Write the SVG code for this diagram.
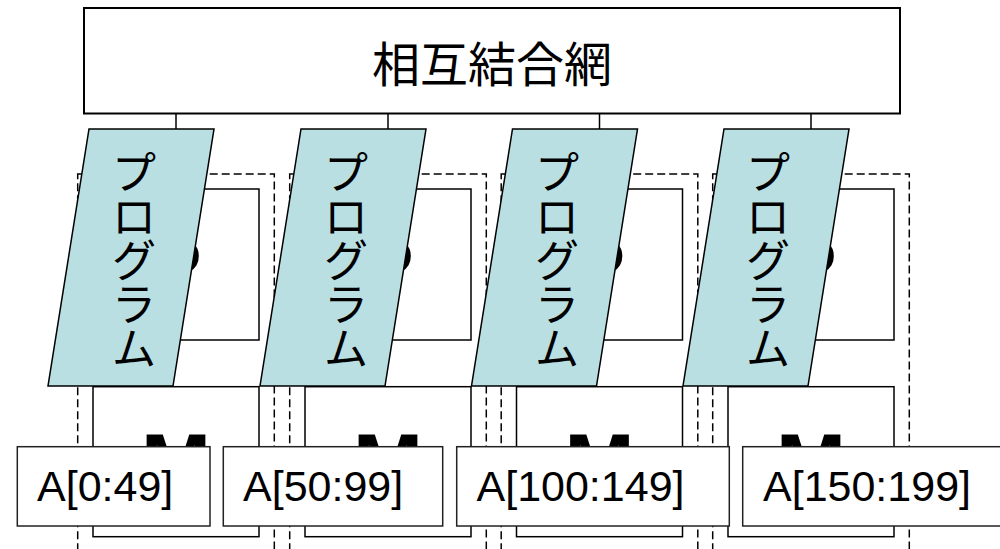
<svg xmlns="http://www.w3.org/2000/svg" width="1000" height="549" viewBox="0 0 1000 549">
<style>
.net{fill:#fff;stroke:#000;stroke-width:2}
.box{fill:#fff;stroke:#000;stroke-width:1.5}
.pe{fill:none;stroke:#000;stroke-width:1.5;stroke-dasharray:8 4}
.prog{fill:#BADFE2;stroke:#000;stroke-width:1.5}
.lbl{fill:#fff;stroke:#222;stroke-width:1.5}
.big{font-family:"Liberation Sans",Arial,sans-serif;font-weight:bold;font-size:84px;text-anchor:middle;fill:#000}
.bigp{font-family:"Liberation Sans",Arial,sans-serif;font-weight:bold;font-size:76px;text-anchor:middle;fill:#000}
.jp{font-family:"Noto Sans CJK JP",sans-serif;text-anchor:middle;dominant-baseline:central;fill:#000}
.lt{font-family:"Liberation Sans",Arial,sans-serif;font-size:43px;fill:#000}
.conn{stroke:#000;stroke-width:1.5;fill:none}
</style>

<g id="network">
<rect class="net" x="84" y="8" width="816" height="105.5"/>
<text class="jp" x="492" y="61" font-size="48">相互結合網</text>
</g>

<g id="connectors">
<line class="conn" x1="176" y1="113.5" x2="176" y2="129"/>
<line class="conn" x1="388" y1="113.5" x2="388" y2="129"/>
<line class="conn" x1="599.5" y1="113.5" x2="599.5" y2="129"/>
<line class="conn" x1="811" y1="113.5" x2="811" y2="129"/>
</g>

<!-- column 1 -->
<g id="pe1"><rect class="pe" x="77.7" y="174" width="196.6" height="400"/></g>
<g id="p1"><rect class="box" x="93" y="189" width="166" height="151"/><text class="bigp" x="176" y="292">P</text></g>
<g id="m1"><rect class="box" x="93" y="386.7" width="166" height="150"/><text class="big" x="176" y="491.7">M</text></g>
<g id="prog1"><polygon class="prog" points="89,129 214,129 173,386 48,386"/>
<text class="jp" font-size="44"><tspan x="134" y="170">プ</tspan><tspan x="134" y="214">ロ</tspan><tspan x="134" y="258">グ</tspan><tspan x="134" y="302">ラ</tspan><tspan x="134" y="346">ム</tspan></text></g>

<!-- column 2 -->
<g id="pe2"><rect class="pe" x="289.7" y="174" width="196.6" height="400"/></g>
<g id="p2"><rect class="box" x="305" y="189" width="166" height="151"/><text class="bigp" x="388" y="292">P</text></g>
<g id="m2"><rect class="box" x="305" y="386.7" width="166" height="150"/><text class="big" x="388" y="491.7">M</text></g>
<g id="prog2"><polygon class="prog" points="301,129 426,129 385,386 260,386"/>
<text class="jp" font-size="44"><tspan x="346" y="170">プ</tspan><tspan x="346" y="214">ロ</tspan><tspan x="346" y="258">グ</tspan><tspan x="346" y="302">ラ</tspan><tspan x="346" y="346">ム</tspan></text></g>

<!-- column 3 -->
<g id="pe3"><rect class="pe" x="501.2" y="174" width="196.6" height="400"/></g>
<g id="p3"><rect class="box" x="516.5" y="189" width="166" height="151"/><text class="bigp" x="599.5" y="292">P</text></g>
<g id="m3"><rect class="box" x="516.5" y="386.7" width="166" height="150"/><text class="big" x="599.5" y="491.7">M</text></g>
<g id="prog3"><polygon class="prog" points="512.5,129 637.5,129 596.5,386 471.5,386"/>
<text class="jp" font-size="44"><tspan x="557" y="170">プ</tspan><tspan x="557" y="214">ロ</tspan><tspan x="557" y="258">グ</tspan><tspan x="557" y="302">ラ</tspan><tspan x="557" y="346">ム</tspan></text></g>

<!-- column 4 -->
<g id="pe4"><rect class="pe" x="712.7" y="174" width="196.6" height="400"/></g>
<g id="p4"><rect class="box" x="728" y="189" width="166" height="151"/><text class="bigp" x="811" y="292">P</text></g>
<g id="m4"><rect class="box" x="728" y="386.7" width="166" height="150"/><text class="big" x="811" y="491.7">M</text></g>
<g id="prog4"><polygon class="prog" points="724,129 849,129 808,386 683,386"/>
<text class="jp" font-size="44"><tspan x="768" y="170">プ</tspan><tspan x="768" y="214">ロ</tspan><tspan x="768" y="258">グ</tspan><tspan x="768" y="302">ラ</tspan><tspan x="768" y="346">ム</tspan></text></g>

<!-- labels -->
<g id="label1"><rect class="lbl" x="17.3" y="446.7" width="192.7" height="79.3"/><text class="lt" x="37" y="501">A[0:49]</text></g>
<g id="label2"><rect class="lbl" x="223.3" y="446.7" width="219.4" height="79.3"/><text class="lt" x="243" y="501">A[50:99]</text></g>
<g id="label3"><rect class="lbl" x="456.7" y="446.7" width="272.6" height="79.3"/><text class="lt" x="476.5" y="501">A[100:149]</text></g>
<g id="label4"><rect class="lbl" x="742.7" y="446.7" width="268" height="79.3"/><text class="lt" x="763" y="501">A[150:199]</text></g>
</svg>
